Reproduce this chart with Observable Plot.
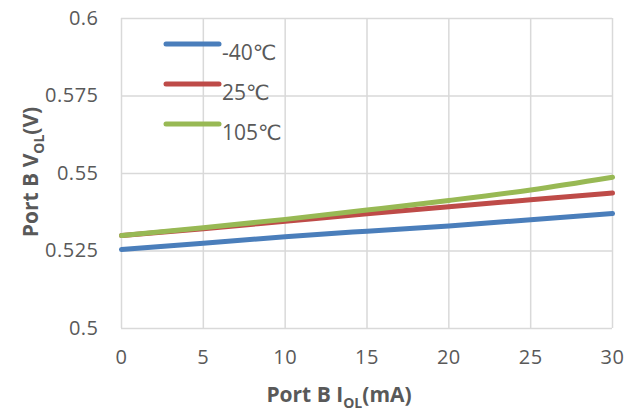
<!DOCTYPE html>
<html>
<head>
<meta charset="utf-8">
<script src="https://cdn.jsdelivr.net/npm/d3@7"></script>
<script src="https://cdn.jsdelivr.net/npm/@observablehq/plot@0.6"></script>
<style>
  html, body { margin: 0; padding: 0; background: #fff; }
  #chart { width: 636px; height: 414px; }
</style>
</head>
<body>
<div id="chart"></div>
<script>
const iol = [0, 5, 10, 15, 20, 25, 30];
const vM40 = [0.5255, 0.5275, 0.5296, 0.5314, 0.5331, 0.5351, 0.5371];
const v25 = [0.5300, 0.5322, 0.5346, 0.5370, 0.5393, 0.5415, 0.5437];
const v105 = [0.5300, 0.5325, 0.5352, 0.5382, 0.5413, 0.5447, 0.5488];
const seriesNames = ["-40℃", "25℃", "105℃"];
const seriesColors = ["#4a7ebb", "#be4b48", "#98b954"];
const xTicks = [0, 5, 10, 15, 20, 25, 30];
const yTicks = [0.5, 0.525, 0.55, 0.575, 0.6];
const yTickLabels = ["0.5", "0.525", "0.55", "0.575", "0.6"];

const seriesValues = [vM40, v25, v105];
const data = [];
seriesNames.forEach((name, i) => {
  iol.forEach((x, j) => data.push({series: name, x, y: seriesValues[i][j]}));
});

const font = "'Open Sans', 'DejaVu Sans', sans-serif";
const W = 636, H = 414;
const mL = 121, mR = 24, mT = 18, mB = 86;

const chart = Plot.plot({
  width: W, height: H,
  marginLeft: mL, marginRight: mR, marginTop: mT, marginBottom: mB,
  style: {fontFamily: font, background: "#fff", fontSize: "20px"},
  x: {domain: [0, 30], ticks: xTicks},
  y: {domain: [0.5, 0.6], ticks: yTicks},
  color: {domain: seriesNames, range: seriesColors},
  marks: [
    Plot.gridX(xTicks, {stroke: "#d9d9d9", strokeOpacity: 1, strokeWidth: 1.5}),
    Plot.gridY(yTicks, {stroke: "#d9d9d9", strokeOpacity: 1, strokeWidth: 1.5}),
    Plot.axisX(xTicks, {tickSize: 0, tickPadding: 21, fontSize: 20, fill: "#595959", label: null}),
    Plot.axisY(yTicks, {tickSize: 0, tickPadding: 23, fontSize: 20, fill: "#595959", label: null,
      tickFormat: (d) => yTickLabels[yTicks.indexOf(d)]}),
    Plot.line(data, {x: "x", y: "y", z: "series", stroke: "series", strokeWidth: 5, curve: "monotone-x"})
  ]
});

document.getElementById("chart").appendChild(chart);
const svg = d3.select(chart);
svg.selectAll("g[aria-label='x-axis tick label'], g[aria-label='y-axis tick label']")
  .attr("font-size", 20)
  .style("font-size", "20px")
  .style("letter-spacing", "0.5px");

// Axis titles with subscripts
const xt = svg.append("text")
  .attr("x", 339).attr("y", 402)
  .attr("text-anchor", "middle")
  .style("font-family", font).style("font-size", "21px").attr("font-weight", "bold")
  .attr("fill", "#595959");
xt.append("tspan").text("Port B I");
xt.append("tspan").style("font-size", "14px").attr("dy", 6).text("OL");
xt.append("tspan").attr("dy", -6).text("(mA)");

const yt = svg.append("text")
  .attr("transform", "translate(38,172) rotate(-90)")
  .attr("text-anchor", "middle")
  .style("font-family", font).style("font-size", "21px").attr("font-weight", "bold")
  .attr("fill", "#595959");
yt.append("tspan").text("Port B V");
yt.append("tspan").style("font-size", "14px").attr("dy", 6).text("OL");
yt.append("tspan").attr("dy", -6).text("(V)");

// Legend
const lg = svg.append("g");
seriesNames.forEach((name, i) => {
  const y = 44 + i * 40;
  lg.append("line").attr("x1", 166).attr("x2", 219).attr("y1", y).attr("y2", y)
    .attr("stroke", seriesColors[i]).attr("stroke-width", 5).attr("stroke-linecap", "round");
  lg.append("text").attr("x", 222).attr("y", y + 16)
    .attr("text-anchor", "start")
    .style("font-family", font).style("font-size", "21px").attr("fill", "#595959").text(name);
});
</script>
</body>
</html>
